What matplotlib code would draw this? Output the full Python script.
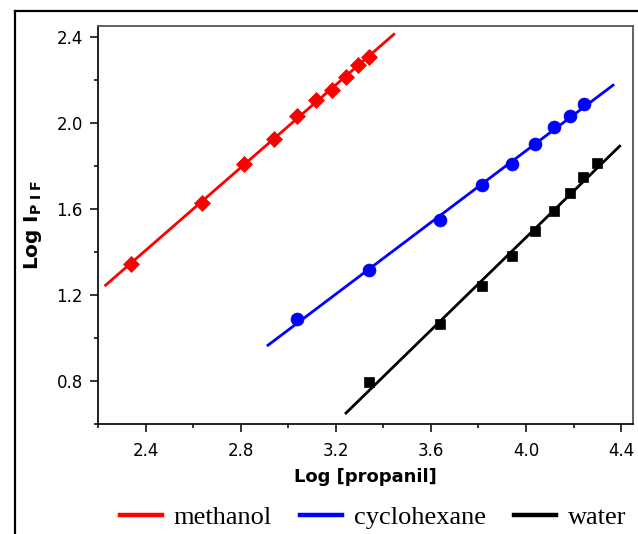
import numpy as np
import matplotlib
matplotlib.use("Agg")
import matplotlib.pyplot as plt
from matplotlib.lines import Line2D
from matplotlib.ticker import MultipleLocator

# ---- data ----
methanol_x = [2.340, 2.639, 2.814, 2.939, 3.038, 3.115, 3.184, 3.242, 3.292, 3.341]
methanol_y = [1.346, 1.627, 1.807, 1.923, 2.033, 2.107, 2.152, 2.211, 2.267, 2.307]

cyclohexane_x = [3.038, 3.339, 3.640, 3.815, 3.940, 4.037, 4.117, 4.185, 4.242]
cyclohexane_y = [1.090, 1.318, 1.549, 1.713, 1.809, 1.902, 1.980, 2.033, 2.088]

water_x = [3.339, 3.639, 3.815, 3.940, 4.037, 4.117, 4.186, 4.240, 4.297]
water_y = [0.795, 1.067, 1.240, 1.380, 1.498, 1.589, 1.676, 1.746, 1.811]

# fitted lines: slope, intercept, x-range
methanol_fit = (0.962, -0.902, 2.232, 3.444)
cyclohexane_fit = (0.833, -1.462, 2.915, 4.366)
water_fit = (1.078, -2.845, 3.243, 4.394)

labels = ["methanol", "cyclohexane", "water"]
colors = ["#ff0000", "#0000ff", "#000000"]
markers = ["D", "o", "s"]
msizes = [8, 9.3, 7.8]

series = [(methanol_x, methanol_y, methanol_fit),
          (cyclohexane_x, cyclohexane_y, cyclohexane_fit),
          (water_x, water_y, water_fit)]

xticks = [2.4, 2.8, 3.2, 3.6, 4.0, 4.4]
yticks = [0.8, 1.2, 1.6, 2.0, 2.4]

plt.rcParams['font.family'] = ['DejaVu Sans']
plt.rcParams['mathtext.fontset'] = 'dejavusans'

fig = plt.figure(figsize=(6.38, 5.34), dpi=100)
ax = fig.add_axes([98/638, 1-424/534, (633-98)/638, (424-26)/534])

for (xs, ys, fit), c, m, ms in zip(series, colors, markers, msizes):
    slope, icpt, x0, x1 = fit
    lx = np.array([x0, x1])
    ax.plot(lx, slope*lx + icpt, color=c, lw=2.0, zorder=2)
    ax.plot(xs, ys, linestyle='none', marker=m, ms=ms, color=c, mec=c, mew=0.5, zorder=3)

ax.set_xlim(2.2, 4.45)
ax.set_ylim(0.6, 2.45)
ax.set_xticks(xticks)
ax.set_xticklabels([f"{v:.1f}" for v in xticks])
ax.set_yticks(yticks)
ax.set_yticklabels([f"{v:.1f}" for v in yticks])
ax.xaxis.set_minor_locator(MultipleLocator(0.2))
ax.yaxis.set_minor_locator(MultipleLocator(0.2))
ax.tick_params(axis='both', which='major', direction='out', length=6, width=1.1, labelsize=12)
ax.tick_params(axis='both', which='minor', direction='out', length=3, width=1.1)
ax.tick_params(axis='x', which='major', pad=7)
ax.tick_params(axis='y', which='major', pad=5)

for s in ['left', 'bottom']:
    ax.spines[s].set_linewidth(1.3)
    ax.spines[s].set_color('#111111')
for s in ['top', 'right']:
    ax.spines[s].set_linewidth(1.3)
    ax.spines[s].set_color('#555555')

ax.set_xlabel("Log [propanil]", fontsize=13, fontweight='bold', labelpad=6)
ax.set_ylabel(r"$\mathbf{Log\ I}_{\mathbf{P\ I\ F}}$", fontsize=14.5, labelpad=9)

# legend below
handles = [Line2D([0], [0], color=c, lw=3.2) for c in colors]
fig.legend(handles, labels, loc='center', bbox_to_anchor=(373/638, 1-517/534),
           ncol=3, frameon=False, prop={'family': 'Liberation Serif', 'size': 19},
           handlelength=1.6, handletextpad=0.45, columnspacing=1.05,
           borderpad=0, borderaxespad=0)

# outer frame lines (top and left)
fig.add_artist(Line2D([15/638, 15/638], [0, 1-11/534], color='black', lw=1.6,
                      transform=fig.transFigure))
fig.add_artist(Line2D([15/638, 1], [1-11/534, 1-11/534], color='black', lw=1.6,
                      transform=fig.transFigure))

fig.savefig("out.png", dpi=100)
